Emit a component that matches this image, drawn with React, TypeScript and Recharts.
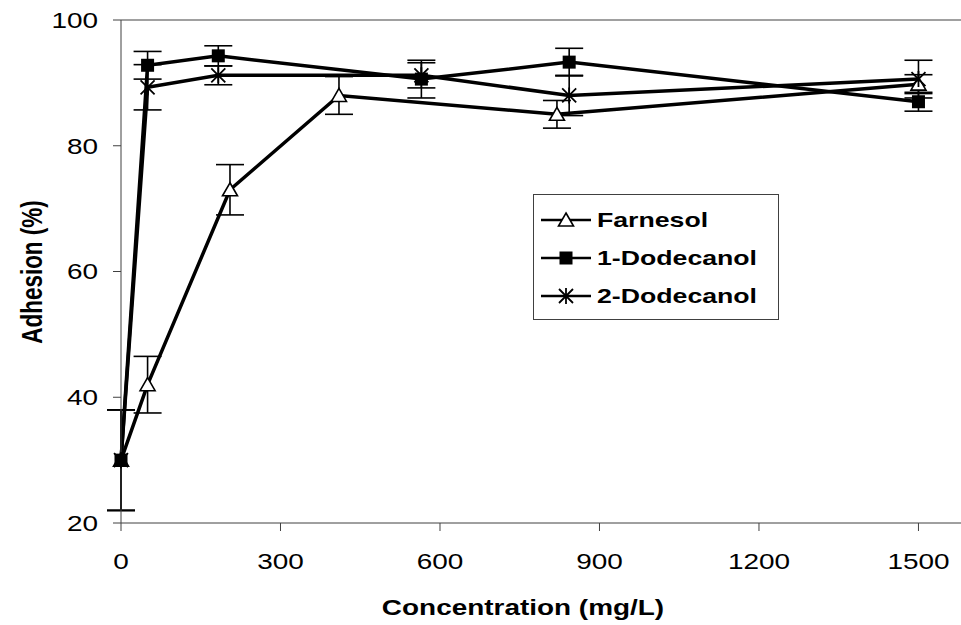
import React from 'react';
import { LineChart, Line, XAxis, YAxis, ErrorBar, ReferenceLine, Legend } from 'recharts';

// concentrations (mg/L), adhesion (%) and standard deviations
const farnesolConc = [0, 50, 205, 410, 820, 1500];
const farnesolAdhesion = [30, 42, 73, 88, 85, 89.8];
const farnesolSd = [8, 4.5, 4, 3, 2.2, 1.5];

const dodecanol1Conc = [0, 50, 183, 565, 843, 1500];
const dodecanol1Adhesion = [30, 92.8, 94.3, 90.6, 93.3, 87];
const dodecanol1Sd = [8, 2.2, 1.6, 3, 2.2, 1.5];

const dodecanol2Conc = [0, 50, 183, 565, 843, 1500];
const dodecanol2Adhesion = [30, 89.3, 91.2, 91.2, 88, 90.6];
const dodecanol2Sd = [8, 3.6, 1.5, 2, 3.2, 3];

const xTicks = [0, 300, 600, 900, 1200, 1500];
const yTicks = [20, 40, 60, 80, 100];

const FONT = '"Liberation Sans", Arial, sans-serif';
// the original picture is a bit wider than tall, so the lettering is stretched sideways
const SX = 1.27;

const toRows = (xs: number[], ys: number[], sd: number[]) =>
  xs.map((x, i) => ({ conc: x, adhesion: ys[i], sd: sd[i] }));

const farnesolData = toRows(farnesolConc, farnesolAdhesion, farnesolSd);
const dodecanol1Data = toRows(dodecanol1Conc, dodecanol1Adhesion, dodecanol1Sd);
const dodecanol2Data = toRows(dodecanol2Conc, dodecanol2Adhesion, dodecanol2Sd);

function WideText({ x, y, anchor = 'middle', size, bold = false, rotate = false, dy = '0.355em', children }: any) {
  return (
    <g transform={`translate(${x},${y}) scale(${SX},1)${rotate ? ' rotate(-90)' : ''}`}>
      <text x={0} y={0} dy={dy} textAnchor={anchor} fontSize={size} fontWeight={bold ? 'bold' : 'normal'} fontFamily={FONT} fill="#000">
        {children}
      </text>
    </g>
  );
}

// markers
const triangle = (cx: number, cy: number) => (
  <path d={`M${cx},${cy - 7} L${cx + 7.5},${cy + 6} L${cx - 7.5},${cy + 6} Z`} fill="#fff" stroke="#000" strokeWidth={1.6} />
);
const square = (cx: number, cy: number) => <rect x={cx - 6.5} y={cy - 6.5} width={13} height={13} fill="#000" />;
const star = (cx: number, cy: number) => (
  <path
    d={`M${cx - 7},${cy - 7} L${cx + 7},${cy + 7} M${cx - 7},${cy + 7} L${cx + 7},${cy - 7} M${cx},${cy - 8} L${cx},${cy + 8}`}
    stroke="#000"
    strokeWidth={1.8}
    fill="none"
  />
);

const dotWith = (shape: (cx: number, cy: number) => React.ReactElement, name: string) => (props: any) => (
  <g key={`${name}-${props.index}`}>{shape(props.cx, props.cy)}</g>
);

const XTick = (props: any) => (
  <WideText x={props.x} y={props.y} size={22} dy="0.71em">{props.payload.value}</WideText>
);
const YTick = (props: any) => (
  <WideText x={props.x} y={props.y} size={22} anchor="end">{props.payload.value}</WideText>
);

const legendRows = [
  { name: 'Farnesol', shape: triangle },
  { name: '1-Dodecanol', shape: square },
  { name: '2-Dodecanol', shape: star },
];

const renderLegend = () => (
  <svg width={246} height={126} style={{ display: 'block' }}>
    <rect x={0.5} y={0.5} width={245} height={125} fill="#fff" stroke="#404040" strokeWidth={1} />
    {legendRows.map((r, i) => {
      const cy = 26 + i * 38;
      return (
        <g key={r.name}>
          <line x1={8} x2={58} y1={cy} y2={cy} stroke="#000" strokeWidth={2.5} />
          {r.shape(33, cy)}
          <WideText x={64} y={cy} size={21} bold anchor="start">{r.name}</WideText>
        </g>
      );
    })}
  </svg>
);

export default function App() {
  return (
    <div style={{ position: 'absolute', left: 0, top: 0, background: '#fff' }}>
      <LineChart width={961} height={625} margin={{ top: 20, right: 0, bottom: 0, left: 0 }}>
        <XAxis
          type="number"
          dataKey="conc"
          domain={[0, 1580]}
          ticks={xTicks}
          height={102}
          stroke="#404040"
          tickSize={8}
          tickMargin={22}
          tick={XTick}
          label={{
            content: () => <WideText x={523} y={607} size={22} bold>Concentration (mg/L)</WideText>,
          }}
        />
        <YAxis
          type="number"
          domain={[20, 100]}
          ticks={yTicks}
          width={121}
          stroke="#404040"
          tickSize={8}
          tickMargin={15}
          tick={YTick}
          label={{
            content: () => <WideText x={32} y={272} size={22.5} bold rotate>Adhesion (%)</WideText>,
          }}
        />
        <ReferenceLine y={100} stroke="#808080" strokeWidth={1.5} />
        <Legend
          layout="horizontal"
          verticalAlign="middle"
          align="center"
          content={renderLegend}
          wrapperStyle={{ position: 'absolute', left: 533, top: 194, width: 246, height: 126 }}
        />
        <Line
          data={farnesolData}
          dataKey="adhesion"
          name="Farnesol"
          stroke="#000"
          strokeWidth={3.5}
          dot={dotWith(triangle, 'f')}
          isAnimationActive={false}
        >
          <ErrorBar dataKey="sd" width={14} strokeWidth={1.6} stroke="#000" direction="y" isAnimationActive={false} />
        </Line>
        <Line
          data={dodecanol1Data}
          dataKey="adhesion"
          name="1-Dodecanol"
          stroke="#000"
          strokeWidth={3.5}
          dot={dotWith(square, 'd1')}
          isAnimationActive={false}
        >
          <ErrorBar dataKey="sd" width={14} strokeWidth={1.6} stroke="#000" direction="y" isAnimationActive={false} />
        </Line>
        <Line
          data={dodecanol2Data}
          dataKey="adhesion"
          name="2-Dodecanol"
          stroke="#000"
          strokeWidth={3.5}
          dot={dotWith(star, 'd2')}
          isAnimationActive={false}
        >
          <ErrorBar dataKey="sd" width={14} strokeWidth={1.6} stroke="#000" direction="y" isAnimationActive={false} />
        </Line>
      </LineChart>
    </div>
  );
}
